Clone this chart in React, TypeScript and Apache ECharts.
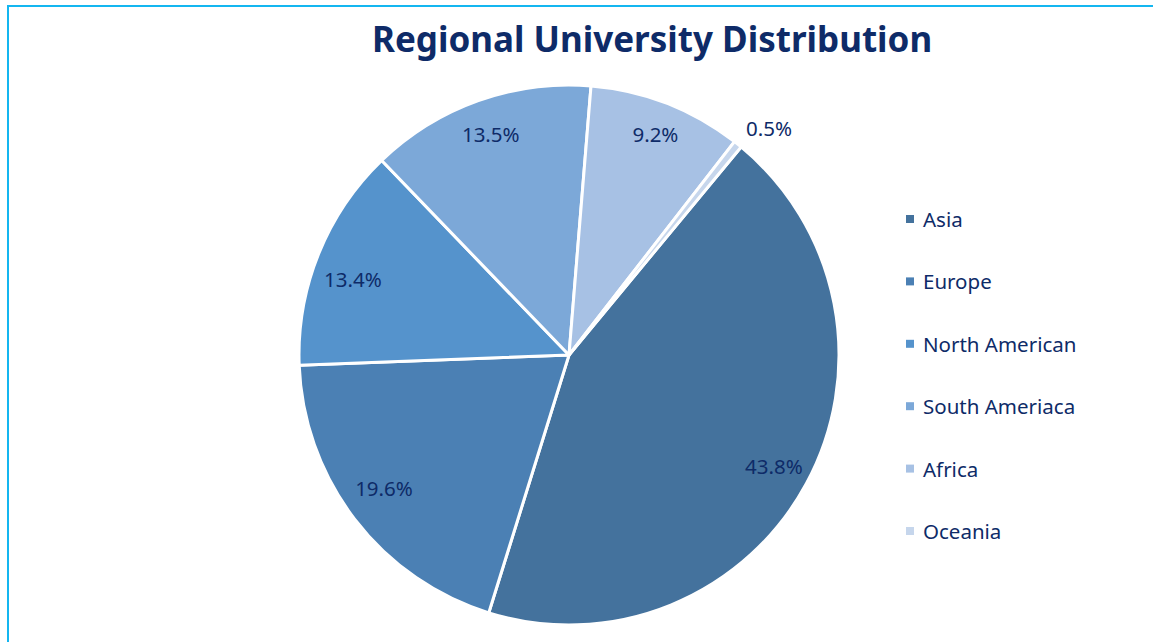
import React, { useEffect, useRef } from "react";
import * as echarts from "echarts";

const regions = ["Asia", "Europe", "North American", "South Ameriaca", "Africa", "Oceania"];
const shares = [43.8, 19.6, 13.4, 13.5, 9.2, 0.5];
const sliceColors = ["#44729D", "#4B80B4", "#5593CC", "#7CA8D8", "#A7C1E4", "#C6D6EC"];
const titleText = "Regional University Distribution";

const CX = 569;
const CY = 355;
const R = 270;
const START = 50.4;
const FONT = "'Noto Sans', sans-serif";
const NAVY = "#0E2B68";

// small label nudges imitating the spreadsheet "best fit" placement
const labelNudge: Record<string, number[]> = {
  Europe: [0, -9],
  "North American": [0, 11],
  "South Ameriaca": [0, -2],
  Africa: [2, -4],
};

export default function App() {
  const ref = useRef<HTMLDivElement>(null);
  useEffect(() => {
    if (!ref.current) return;
    const chart = echarts.init(ref.current, null, { renderer: "svg" });
    const fmt = (p: any) => Number(p.value).toFixed(1) + "%";
    const mainData = regions.map((n, i) => {
      const item: any = { name: n, value: shares[i], itemStyle: { color: sliceColors[i] } };
      if (n === "Oceania") {
        item.label = { show: true, position: "outside", distanceToLabelLine: -5 };
        item.labelLine = { show: false, length: 21, length2: 0 };
      }
      return item;
    });
    const overlayData = regions.map((n, i) => {
      const item: any = { name: n, value: shares[i] };
      if (n === "Oceania") item.label = { show: false };
      else if (labelNudge[n]) item.label = { offset: labelNudge[n] };
      return item;
    });
    chart.setOption({
      animation: false,
      backgroundColor: "#ffffff",
      title: {
        text: titleText,
        left: 367,
        top: 16,
        textStyle: { fontFamily: FONT, fontSize: 35, fontWeight: "bold", color: NAVY },
      },
      legend: {
        orient: "vertical",
        left: 906,
        top: 207,
        padding: 0,
        icon: "rect",
        itemWidth: 8,
        itemHeight: 8,
        itemGap: 38.4,
        itemStyle: { borderWidth: 0 },
        data: regions,
        textStyle: {
          fontFamily: FONT,
          fontSize: 20.5,
          lineHeight: 24,
          color: NAVY,
          padding: [0, 0, 0, 4],
        },
      },
      graphic: [
        {
          type: "rect",
          shape: { x: 8, y: 6, width: 1300, height: 800 },
          style: { fill: "none", stroke: "#14B6F0", lineWidth: 2 },
          silent: true,
        },
      ],
      series: [
        {
          type: "pie",
          center: [CX, CY],
          radius: [0, R],
          startAngle: START,
          clockwise: true,
          avoidLabelOverlap: false,
          itemStyle: { borderColor: "#ffffff", borderWidth: 3 },
          label: {
            show: false,
            formatter: fmt,
            fontFamily: FONT,
            fontSize: 20.5,
            color: NAVY,
          },
          labelLine: { show: false },
          emphasis: { disabled: true },
          data: mainData,
        },
        {
          type: "pie",
          center: [CX, CY],
          radius: [0, 460],
          startAngle: START,
          clockwise: true,
          silent: true,
          legendHoverLink: false,
          avoidLabelOverlap: false,
          itemStyle: { color: "rgba(0,0,0,0)", borderWidth: 0 },
          label: {
            show: true,
            position: "inside",
            formatter: fmt,
            fontFamily: FONT,
            fontSize: 20.5,
            color: NAVY,
          },
          labelLine: { show: false },
          emphasis: { disabled: true },
          data: overlayData,
        },
      ],
    });
    return () => chart.dispose();
  }, []);
  return (
    <div
      ref={ref}
      style={{ position: "fixed", left: 0, top: 0, width: 1153, height: 642 }}
    />
  );
}
